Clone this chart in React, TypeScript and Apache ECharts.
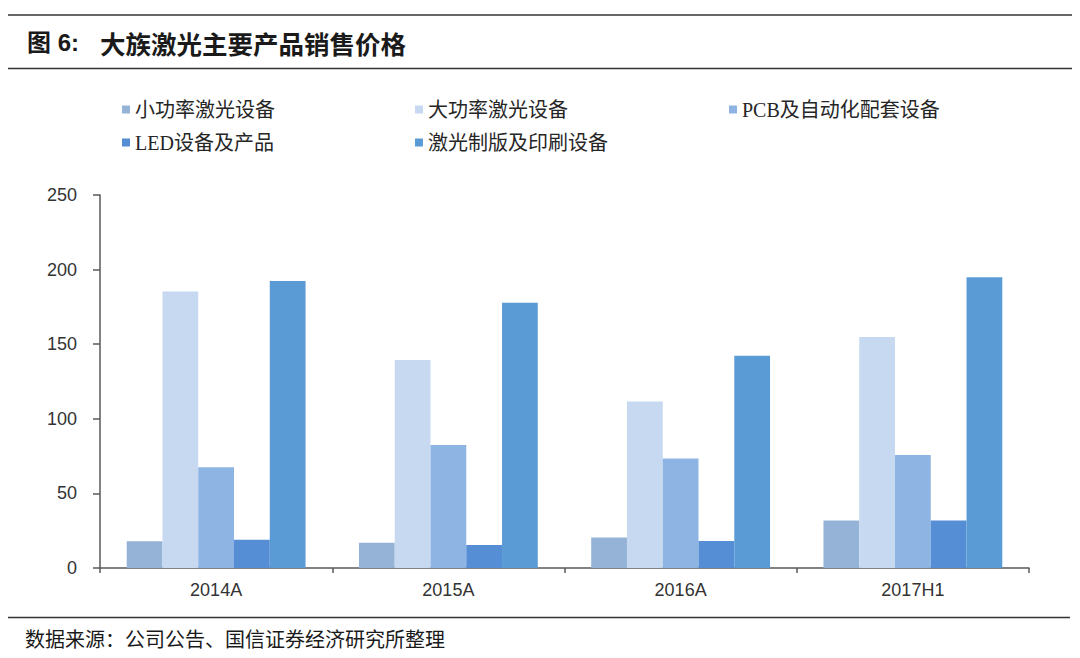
import React, { useEffect, useRef } from "react";
import * as echarts from "echarts";

const categories = ["2014A", "2015A", "2016A", "2017H1"];
const seriesNames = [
  "小功率激光设备",
  "大功率激光设备",
  "PCB及自动化配套设备",
  "LED设备及产品",
  "激光制版及印刷设备",
];
const smallPower = [18, 17, 20.5, 31.8];
const highPower = [185.4, 139.4, 111.6, 154.8];
const pcbAuto = [67.5, 82.5, 73.4, 75.8];
const ledProducts = [19, 15.4, 18.1, 31.8];
const laserPrint = [192.3, 177.8, 142.2, 194.8];
const yTicks = [0, 50, 100, 150, 200, 250];

const seriesData = [smallPower, highPower, pcbAuto, ledProducts, laserPrint];
const colors = ["#95B3D7", "#C6D9F1", "#8EB4E3", "#558ED5", "#5B9BD5"];

const titleText = "大族激光主要产品销售价格";
const sourceText = "数据来源：公司公告、国信证券经济研究所整理";

export default function App() {
  const ref = useRef<HTMLDivElement>(null);
  useEffect(() => {
    document.body.style.margin = "0";
    if (!ref.current) return;
    const chart = echarts.init(ref.current, null, { renderer: "svg" });
    const legendText = {
      fontSize: 20,
      color: "#262626",
      fontFamily: "'Liberation Serif', 'Noto Sans CJK SC', serif",
      lineHeight: 21,
    };
    const legendBase = {
      orient: "vertical" as const,
      top: 99,
      icon: "rect",
      itemWidth: 8,
      itemHeight: 8,
      itemGap: 12,
      textStyle: legendText,
      padding: 0,
      selectedMode: false,
    };
    chart.setOption({
      animation: false,
      backgroundColor: "#ffffff",
      legend: [
        { ...legendBase, left: 122, data: [seriesNames[0], seriesNames[3]] },
        { ...legendBase, left: 415, data: [seriesNames[1], seriesNames[4]] },
        { ...legendBase, left: 729, data: [seriesNames[2]] },
      ],
      grid: { left: 100, right: 51, top: 195, bottom: 90, containLabel: false },
      xAxis: {
        type: "category",
        data: categories,
        axisLine: { show: true, lineStyle: { color: "#595959", width: 1.5 } },
        axisTick: { show: true, length: 5, lineStyle: { color: "#595959", width: 1.5 } },
        axisLabel: {
          fontSize: 18,
          color: "#333333",
          margin: 13,
          fontFamily: "'Liberation Sans', Arial, sans-serif",
        },
      },
      yAxis: {
        type: "value",
        min: yTicks[0],
        max: yTicks[yTicks.length - 1],
        interval: 50,
        axisLine: { show: true, lineStyle: { color: "#595959", width: 1.5 } },
        axisTick: { show: true, length: 7, inside: false, lineStyle: { color: "#595959", width: 1.5 } },
        splitLine: { show: false },
        axisLabel: {
          fontSize: 18,
          color: "#333333",
          margin: 23,
          fontFamily: "'Liberation Sans', Arial, sans-serif",
        },
      },
      series: seriesNames.map((name, i) => ({
        name,
        type: "bar",
        data: seriesData[i],
        barGap: "0%",
        barCategoryGap: "23%",
        itemStyle: { color: colors[i] },
      })),
      graphic: [
        {
          type: "line",
          shape: { x1: 8, y1: 15, x2: 1072, y2: 15 },
          style: { stroke: "#333333", lineWidth: 1.3 },
        },
        {
          type: "line",
          shape: { x1: 8, y1: 68.5, x2: 1072, y2: 68.5 },
          style: { stroke: "#333333", lineWidth: 1.3 },
        },
        {
          type: "text",
          x: 27,
          y: 42,
          style: {
            text: "图 6:",
            fontSize: 24,
            fontWeight: "bold",
            fill: "#1a1a1a",
            fontFamily: "'Liberation Sans', 'Noto Sans CJK SC', sans-serif",
            verticalAlign: "middle",
          },
        },
        {
          type: "text",
          x: 100,
          y: 42,
          style: {
            text: titleText,
            fontSize: 25.5,
            fontWeight: "bold",
            fill: "#1a1a1a",
            fontFamily: "'Noto Sans CJK SC', sans-serif",
            verticalAlign: "middle",
          },
        },
        {
          type: "line",
          shape: { x1: 8, y1: 617.5, x2: 1070, y2: 617.5 },
          style: { stroke: "#333333", lineWidth: 1.3 },
        },
        {
          type: "text",
          x: 25,
          y: 638,
          style: {
            text: sourceText,
            fontSize: 20,
            fill: "#1a1a1a",
            fontFamily: "'Noto Sans CJK SC', serif",
            verticalAlign: "middle",
          },
        },
      ],
    });
    return () => chart.dispose();
  }, []);
  return (
    <div
      ref={ref}
      style={{ position: "absolute", left: 0, top: 0, width: 1080, height: 658, background: "#fff" }}
    />
  );
}
